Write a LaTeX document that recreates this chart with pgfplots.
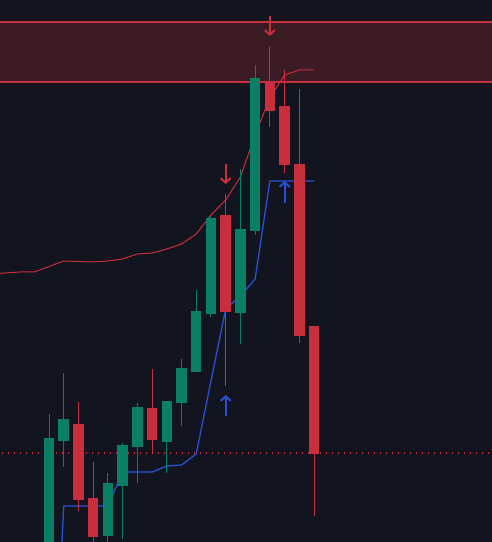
\documentclass[border=0pt]{standalone}
\usepackage{pgfplots}
\pgfplotsset{compat=1.18}
\usetikzlibrary{arrows.meta}

\definecolor{bg}{HTML}{121520}
\definecolor{upc}{HTML}{0A7F66}
\definecolor{dnc}{HTML}{C82E3B}
\definecolor{bandblue}{HTML}{2850D2}
\definecolor{zone}{HTML}{3C1C24}

% candles: index, open, high, low, close
\pgfplotstableread{
i o h l c
1 -18 128 -30 104
2 101 169 75 123
5 6 69 -10 59
6 56 99 3 97
7 95 139 59 135
9 100 141 69 141
10 139 183 116 174
11 170 252 170 231
12 228 326 225 324
14 229 373 198 313
15 311 477 307 464
}\upcandles

\pgfplotstableread{
i o h l c
3 118 140 31 42
4 44 80 -10 5
8 134 173 89 102
13 327 348 156 230
16 460 495 415 431
17 436 472 369 377
18 378 453 199 206
19 216 216 26 88
}\dncandles

\pgfplotstableread{
i y
-3 268
-2 269
-1 270
0 270
1 275.5
2 281
3 280.5
4 280
5 281
6 283
7 288
8 289
9 293
10 298
11 308
12 327
13 342
14 365
15 407
16 444
17 467
18 472
19 472
}\upperband

\pgfplotstableread{
i y
1 -264
2 36
3 36
4 36
5 36
6 70
7 70
8 70
9 76
10 77
11 88
12 161
13 233
14 246
15 263
16 361
17 361
18 361
19 361
}\lowerband

\begin{document}
\begin{tikzpicture}
\begin{axis}[
  scale only axis,
  width=492pt, height=542pt,
  xmin=-2.33, xmax=31.09,
  ymin=0, ymax=542,
  axis line style={draw=none},
  ticks=none,
  axis background/.style={fill=bg},
  clip=true,
  ]
  % resistance zone
  \addplot[fill=zone, draw=none] coordinates {(-3,460) (32,460) (32,520) (-3,520) (-3,460)};
  \addplot[dnc, line width=1.5pt] coordinates {(-3,520) (32,520)};
  \addplot[dnc, line width=1.5pt] coordinates {(-3,460) (32,460)};
  % dotted level
  \addplot[dnc, line width=1.3pt, dash pattern=on 1.3pt off 4.7pt] coordinates {(-3,89) (32,89)};
  % bands
  \addplot[dnc, line width=1pt] table[x=i, y=y] {\upperband};
  \addplot[bandblue, line width=1.3pt] table[x=i, y=y] {\lowerband};
  % wicks
  \addplot[upc, line width=1pt, quiver={u=0, v=\thisrow{h}-\thisrow{l}}] table[x=i, y=l] {\upcandles};
  \addplot[dnc, line width=1pt, quiver={u=0, v=\thisrow{h}-\thisrow{l}}] table[x=i, y=l] {\dncandles};
  % bodies
  \addplot[upc, line width=10.5pt, line cap=butt, quiver={u=0, v=\thisrow{c}-\thisrow{o}}] table[x=i, y=o] {\upcandles};
  \addplot[dnc, line width=10.5pt, line cap=butt, quiver={u=0, v=\thisrow{c}-\thisrow{o}}] table[x=i, y=o] {\dncandles};
  % signal arrows
  \addplot[dnc, line width=2pt, -{Straight Barb[length=4.5pt,width=10pt]},
    quiver={u=0, v=\thisrow{v}}] table[x=i, y=y] {
i y v
13 378 -20
16 526 -20
};
  \addplot[bandblue, line width=2pt, -{Straight Barb[length=4.5pt,width=10pt]},
    quiver={u=0, v=\thisrow{v}}] table[x=i, y=y] {
i y v
13 126 21
17 339 22
};
\end{axis}
\end{tikzpicture}
\end{document}
